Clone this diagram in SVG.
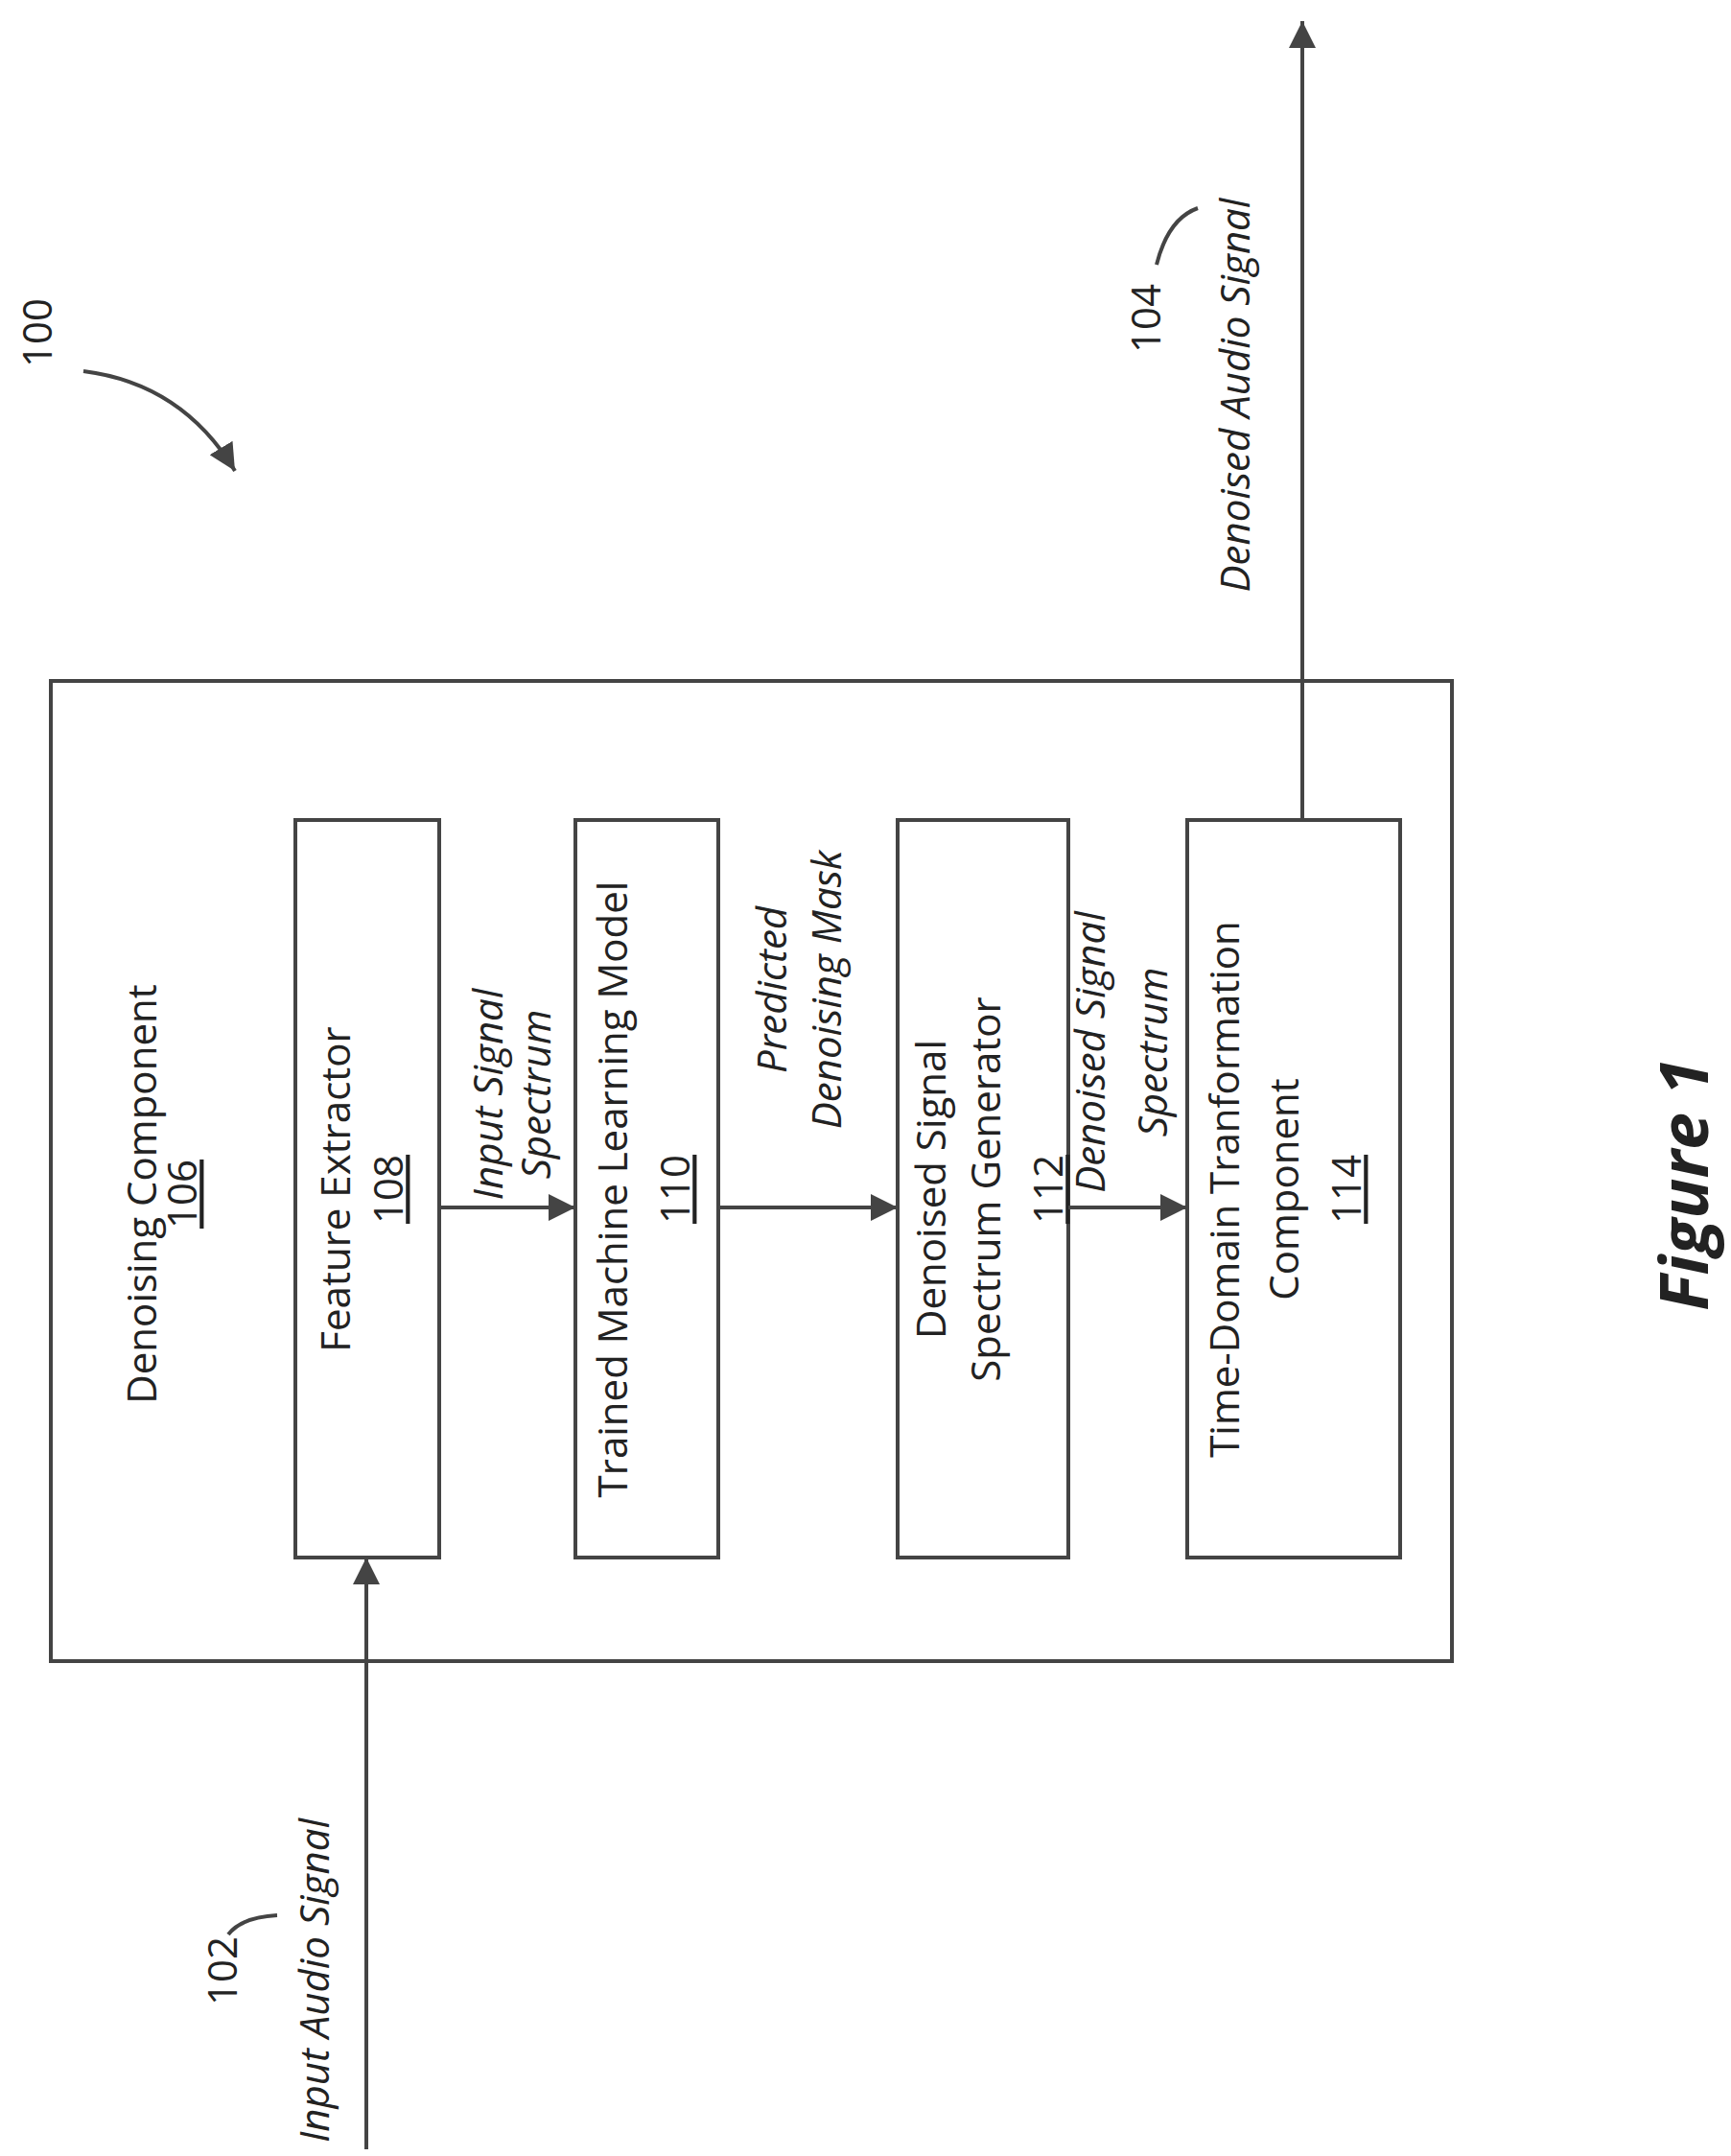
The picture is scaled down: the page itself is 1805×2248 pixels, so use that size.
<svg xmlns="http://www.w3.org/2000/svg" width="1805" height="2248" viewBox="0 0 1805 2248">
<style>
.b{fill:none;stroke:#444;stroke-width:4}
.c{fill:none;stroke:#444;stroke-width:4}
text{font-family:"Open Sans","Liberation Sans",sans-serif;font-size:42px;fill:#222;text-anchor:middle;dominant-baseline:middle}
.i{font-style:italic}
.u{text-decoration:underline}
</style>
<defs>
<marker id="m" viewBox="0 0 10 10" refX="10" refY="5" markerWidth="28" markerHeight="28" markerUnits="userSpaceOnUse" orient="auto"><path d="M0,0 L10,5 L0,10 z" fill="#444"/></marker>
</defs>
<g id="outer"><rect class="b" x="53" y="710" width="1461" height="1022"/>
<text transform="translate(152,1245) rotate(-90)">Denoising Component</text>
<text class="u" transform="translate(194,1245) rotate(-90)">106</text></g>
<g id="n108"><rect class="b" x="308" y="855" width="150" height="769"/>
<text transform="translate(354,1240) rotate(-90)">Feature Extractor</text>
<text class="u" transform="translate(409,1240) rotate(-90)">108</text></g>
<g id="n110"><rect class="b" x="600" y="855" width="149" height="769"/>
<text transform="translate(643,1240) rotate(-90)">Trained Machine Learning Model</text>
<text class="u" transform="translate(708,1240) rotate(-90)">110</text></g>
<g id="n112"><rect class="b" x="936" y="855" width="178" height="769"/>
<text transform="translate(975,1240) rotate(-90)">Denoised Signal</text>
<text transform="translate(1032,1240) rotate(-90)">Spectrum Generator</text>
<text class="u" transform="translate(1097,1240) rotate(-90)">112</text></g>
<g id="n114"><rect class="b" x="1238" y="855" width="222" height="769"/>
<text transform="translate(1281,1240) rotate(-90)">Time-Domain Tranformation</text>
<text transform="translate(1343,1240) rotate(-90)">Component</text>
<text class="u" transform="translate(1408,1240) rotate(-90)">114</text></g>
<g id="connectors">
<line class="c" x1="458" y1="1259" x2="600" y2="1259" marker-end="url(#m)"/>
<line class="c" x1="749" y1="1259" x2="936" y2="1259" marker-end="url(#m)"/>
<line class="c" x1="1114" y1="1259" x2="1238" y2="1259" marker-end="url(#m)"/>
<line class="c" x1="382" y1="2241" x2="382" y2="1624" marker-end="url(#m)"/>
<line class="c" x1="1358" y1="855" x2="1358" y2="22" marker-end="url(#m)"/>
<path class="c" d="M87,387 Q190,400 245,491" marker-end="url(#m)"/>
<path class="c" d="M1206,276 Q1218,228 1249,217"/>
<path class="c" d="M238,2017 Q252,1999 289,1997"/>
</g>
<g id="labels">
<text class="i" transform="translate(513,1141) rotate(-90)">Input Signal</text>
<text class="i" transform="translate(563,1141) rotate(-90)">Spectrum</text>
<text class="i" transform="translate(809,1032) rotate(-90)">Predicted</text>
<text class="i" transform="translate(866,1032) rotate(-90)">Denoising Mask</text>
<text class="i" transform="translate(1141,1097) rotate(-90)">Denoised Signal</text>
<text class="i" transform="translate(1206,1097) rotate(-90)">Spectrum</text>
<text class="i" transform="translate(1292,412) rotate(-90)">Denoised Audio Signal</text>
<text transform="translate(1199,332) rotate(-90)">104</text>
<text transform="translate(43,347) rotate(-90)">100</text>
<text transform="translate(236,2055) rotate(-90)">102</text>
<text class="i" transform="translate(332,2065) rotate(-90)">Input Audio Signal</text>
<text class="i" style="font-weight:bold;font-size:70px" transform="translate(1762,1235) rotate(-90)">Figure 1</text>
</g>
</svg>
